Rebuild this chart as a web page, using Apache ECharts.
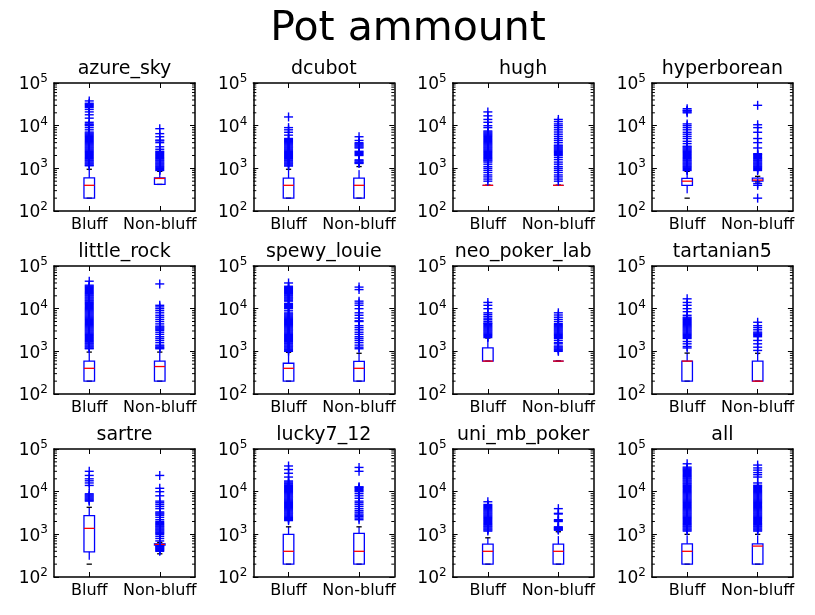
<!DOCTYPE html>
<html>
<head>
<meta charset="utf-8">
<script src="https://cdn.jsdelivr.net/npm/echarts@6/dist/echarts.min.js"></script>
<style>
  html, body { margin: 0; padding: 0; background: #fff; }
  #main { width: 815px; height: 615px; }
</style>
</head>
<body>
<div id="main"></div>
<script>
// players, one subplot each
const players = [
  'azure_sky', 'dcubot', 'hugh', 'hyperborean',
  'little_rock', 'spewy_louie', 'neo_poker_lab', 'tartanian5',
  'sartre', 'lucky7_12', 'uni_mb_poker', 'all'
]
const groups = ['Bluff', 'Non-bluff']

// minor ticks of the log axis
const minorTicks = [
  200, 300, 400, 500, 600, 700, 800, 900,
  2000, 3000, 4000, 5000, 6000, 7000, 8000, 9000,
  20000, 30000, 40000, 50000, 60000, 70000, 80000, 90000
]

// [whisker low, q1, median, q3, whisker high]
const bluffStats = [
  [200, 200, 400, 600, 950],
  [200, 200, 400, 590, 950],
  [400, 400, 400, 400, 400],
  [200, 400, 500, 580, 850],
  [200, 200, 400, 590, 960],
  [200, 200, 400, 525, 950],
  [590, 590, 590, 1200, 2050],
  [200, 200, 590, 590, 910],
  [200, 390, 1380, 2750, 4300],
  [200, 200, 400, 1000, 1500],
  [200, 200, 400, 590, 830],
  [200, 200, 400, 600, 1000]
]
const nonBluffStats = [
  [420, 420, 580, 600, 850],
  [200, 200, 400, 590, 1100],
  [400, 400, 400, 400, 400],
  [480, 500, 530, 590, 650],
  [200, 200, 440, 590, 960],
  [200, 200, 400, 580, 900],
  [590, 590, 590, 590, 590],
  [200, 200, 200, 590, 900],
  [350, 560, 580, 600, 650],
  [200, 200, 400, 1050, 1500],
  [200, 200, 400, 590, 1150],
  [200, 200, 530, 600, 1000]
]

// fliers
const bluffOutliers = [
  [1150, 1190, 1260, 1330, 1410, 1500, 1580, 1680, 1780, 1880, 2000, 2110, 2240, 2370, 2510, 2660, 2820, 2990,
    3160, 3350, 3550, 3760, 3980, 4220, 4470, 4730, 5010, 5310, 5620, 5960, 6310, 6680, 7080,
    8000, 9000, 10000, 10500, 11000, 12000, 15000, 18000, 21000, 24000, 26600, 28200, 29900, 31600, 33500, 38000],
  [1130, 1190, 1260, 1330, 1410, 1500, 1580, 1680, 1780, 1880, 2000, 2110, 2240, 2370, 2510, 2660, 2820, 2990,
    3160, 3350, 3550, 3760, 3980, 4220, 4470, 4730, 5010, 6000, 7000, 8000, 9000, 16000],
  [500, 560, 630, 700, 800, 900, 1000, 1100, 1250, 1400, 1500, 1580, 1680, 1780, 1880, 2000, 2110, 2240, 2370,
    2510, 2660, 2820, 2990, 3160, 3350, 3550, 3760, 3980, 4220, 4470, 4730, 5010, 5310, 5620, 5960, 6310, 6680,
    7080, 7500, 9000, 10000, 12000, 14000, 17000, 21000],
  [890, 940, 1000, 1060, 1120, 1190, 1260, 1330, 1410, 1500, 1580, 1680, 1780, 1880, 2000, 2110, 2240, 2370,
    2510, 2660, 2820, 2990, 3160, 3300, 3800, 4300, 5000, 5600, 6300, 7000, 8000, 9000, 10000, 11000,
    20000, 21100, 22400, 23000, 25000],
  [1150, 1190, 1260, 1330, 1410, 1500, 1580, 1680, 1780, 1880, 2000, 2110, 2240, 2370, 2510, 2660, 2820, 2990,
    3160, 3350, 3550, 3760, 3980, 4220, 4470, 4730, 5010, 5310, 5620, 5960, 6310, 6680, 7080, 7500, 7940, 8410,
    8910, 9440, 10000, 10600, 11200, 11900, 12600, 13300, 14100, 15000, 15800, 16800, 17800, 18800, 20000,
    21100, 22400, 23700, 25100, 26600, 28200, 29900, 31600, 33500, 35500, 44000],
  [1000, 1060, 1120, 1190, 1260, 1330, 1410, 1500, 1580, 1680, 1780, 1880, 2000, 2110, 2240, 2370, 2510, 2660,
    2820, 2990, 3160, 3350, 3550, 3760, 3980, 4220, 4470, 4730, 5010, 5310, 5620, 5960, 6310, 6680, 7080, 7500,
    7940, 8910, 10000, 10600, 11200, 11900, 12600, 13300, 15000, 15800, 16800, 17800, 18800, 20000, 21100,
    22400, 23700, 25100, 26600, 28200, 29900, 31600, 33500, 40000],
  [2100, 2240, 2370, 2510, 2660, 2820, 2990, 3160, 3350, 3550, 3760, 3980, 4220, 4470, 4600,
    5000, 5500, 6000, 6600, 7300, 8000, 10000, 12000, 14000],
  [1200, 1300, 1500, 1700, 2000, 2110, 2240, 2370, 2510, 2660, 2820, 2990, 3160, 3350, 3550, 3760, 3980, 4220,
    4470, 4730, 5010, 5310, 5620, 5960, 6310, 7000, 8500, 10000, 12000, 14000, 17000],
  [6000, 6310, 6680, 7080, 7500, 7940, 8410, 8910, 14000, 16000, 18000, 20000, 24000, 30000],
  [2100, 2240, 2370, 2510, 2660, 2820, 2990, 3160, 3350, 3550, 3760, 3980, 4220, 4470, 4730, 5010, 5310, 5620,
    5960, 6310, 6680, 7080, 7500, 7940, 8410, 8910, 9440, 10000, 10600, 11200, 11900, 12600, 13300, 14100,
    15000, 15800, 16800, 17800, 22000, 27000, 33000, 40000],
  [1190, 1260, 1330, 1410, 1500, 1580, 1680, 1780, 1880, 2000, 2110, 2240, 2370, 2510, 2660, 2820, 2990, 3160,
    3350, 3550, 3760, 3980, 4220, 4470, 4730, 5010, 5800],
  [1190, 1260, 1330, 1410, 1500, 1580, 1680, 1780, 1880, 2000, 2110, 2240, 2370, 2510, 2660, 2820, 2990, 3160,
    3350, 3550, 3760, 3980, 4220, 4470, 4730, 5010, 5310, 5620, 5960, 6310, 6680, 7080, 7500, 7940, 8410, 8910,
    9440, 10000, 10600, 11200, 11900, 12600, 13300, 14100, 15000, 15800, 16800, 17800, 18800, 20000, 21100,
    22400, 23700, 25100, 26600, 28200, 29900, 31600, 33500, 35500, 37600, 45000]
]
const nonBluffOutliers = [
  [890, 940, 1000, 1060, 1120, 1190, 1260, 1330, 1410, 1500, 1580, 1680, 1780, 1880, 2000, 2110, 2240, 2370,
    2510, 2800, 3200, 4000, 4400, 4600, 5500, 6500, 8500],
  [1300, 1350, 1410, 1500, 1580, 2000, 2110, 2240, 2370, 2510, 3000, 3160, 3350, 3550, 3760, 3980, 4500, 5500],
  [500, 560, 630, 700, 800, 900, 1000, 1100, 1250, 1400, 1600, 1800, 2000, 2110, 2240, 2370, 2510, 2660, 2820,
    2990, 3160, 3350, 3500, 4000, 4500, 5000, 5600, 6300, 7100, 8000, 9000, 10000, 11000, 12500, 14000],
  [200, 400, 440, 890, 940, 1000, 1060, 1120, 1190, 1260, 1330, 1410, 1500, 1580, 1680, 1780, 1880, 2000, 2110,
    2200, 3000, 4000, 5000, 7000, 9000, 10500, 30000],
  [1150, 1200, 1250, 1330, 1400, 1600, 1800, 2000, 2200, 2500, 2800, 3100, 3300, 3500, 3700, 3900, 4400, 5000,
    5600, 6300, 7000, 8000, 9000, 10000, 11000, 12000, 38000],
  [1150, 1250, 1400, 1600, 1800, 2000, 2200, 2500, 2800, 3200, 3600, 4000, 5000, 5200, 6000, 7000, 8000,
    10000, 12000, 13500, 15000, 28000, 32000],
  [1000, 1060, 1120, 1190, 1260, 1330, 1500, 1600, 1800, 2000, 2110, 2240, 2370, 2510, 2660, 2820, 2990, 3160,
    3350, 3550, 3760, 3980, 4220, 4470, 5000, 5600, 6300, 7100, 8000],
  [1050, 1250, 1500, 1800, 2200, 2370, 2510, 2660, 2820, 3200, 3600, 4000, 4800],
  [400, 420, 440, 460, 480, 500, 520, 540, 700, 800, 900, 1000, 1060, 1120, 1190, 1260, 1330, 1410, 1500, 1580,
    1680, 1780, 1880, 2000, 2200, 2500, 2800, 2990, 3160, 3350, 4000, 4500, 5000, 5500, 6000, 8000, 10000,
    12000, 24000],
  [2200, 2400, 2600, 2800, 3000, 3300, 3600, 4000, 4500, 5000, 5500, 6000, 7000, 8000, 9000, 10000, 10600,
    11200, 11900, 12600, 13000, 30000, 37000],
  [1250, 1300, 1350, 1400, 1450, 1500, 2000, 2100, 2200, 3000, 3100, 4000],
  [1190, 1260, 1330, 1410, 1500, 1580, 1680, 1780, 1880, 2000, 2110, 2240, 2370, 2510, 2660, 2820, 2990, 3160,
    3350, 3550, 3760, 3980, 4220, 4470, 4730, 5010, 5310, 5620, 5960, 6310, 6680, 7080, 7500, 7940, 8410, 8910,
    9440, 10000, 10600, 11200, 11900, 12600, 13300, 14100, 16000, 22000, 25000, 28000, 32000, 36000, 42000]
]

const FONT = 'DejaVu Sans'
const BLUE = '#0000ff'
const RED = '#ff0000'
const LW = 1.3

const grids = []
const xAxes = []
const yAxes = []
const series = []
const texts = []

texts.push({
  type: 'text',
  x: 408,
  y: 29,
  style: {
    text: 'Pot ammount',
    font: `41px "${FONT}"`,
    fill: '#000',
    textAlign: 'center',
    textVerticalAlign: 'middle',
    align: 'center',
    verticalAlign: 'middle',
  },
})

const tickStyle = { color: '#000', width: 1 }

// 箱体 + 须 + 帽 + 中位线
const renderBox = (params, api) => {
  const cx = api.coord([api.value(0), 100])[0]
  const band = api.size([1, 0])[0]
  const hw = band * 0.075
  const cw = band * 0.0375
  const y = (v) => api.coord([api.value(0), v])[1]
  const lo = y(api.value(1))
  const q1 = y(api.value(2))
  const med = y(api.value(3))
  const q3 = y(api.value(4))
  const hi = y(api.value(5))
  const whisker = { stroke: BLUE, lineWidth: LW, lineDash: [8, 8] }
  const solid = (c) => ({ stroke: c, lineWidth: LW })
  return {
    type: 'group',
    children: [
      { type: 'line', shape: { x1: cx, y1: q1, x2: cx, y2: lo }, style: whisker },
      { type: 'line', shape: { x1: cx, y1: q3, x2: cx, y2: hi }, style: whisker },
      { type: 'line', shape: { x1: cx - cw, y1: lo, x2: cx + cw, y2: lo }, style: solid('#000') },
      { type: 'line', shape: { x1: cx - cw, y1: hi, x2: cx + cw, y2: hi }, style: solid('#000') },
      {
        type: 'rect',
        shape: { x: cx - hw, y: q3, width: hw * 2, height: q1 - q3 },
        style: { stroke: BLUE, fill: 'none', lineWidth: LW },
      },
      { type: 'line', shape: { x1: cx - hw, y1: med, x2: cx + hw, y2: med }, style: solid(RED) },
    ],
  }
}

// '+' 离群点
const renderFlier = (params, api) => {
  const p = api.coord([api.value(0), api.value(1)])
  const r = 4.5
  const st = { stroke: BLUE, lineWidth: 1.4 }
  return {
    type: 'group',
    children: [
      { type: 'line', shape: { x1: p[0] - r, y1: p[1], x2: p[0] + r, y2: p[1] }, style: st },
      { type: 'line', shape: { x1: p[0], y1: p[1] - r, x2: p[0], y2: p[1] + r }, style: st },
    ],
  }
}

// 对数轴次刻度，左右两侧朝内
const renderMinor = (params, api) => {
  const cs = params.coordSys
  const yy = api.coord([0, api.value(0)])[1]
  return {
    type: 'group',
    children: [
      { type: 'line', shape: { x1: cs.x, y1: yy, x2: cs.x + 3, y2: yy }, style: { stroke: '#000', lineWidth: 1 } },
      { type: 'line', shape: { x1: cs.x + cs.width - 3, y1: yy, x2: cs.x + cs.width, y2: yy }, style: { stroke: '#000', lineWidth: 1 } },
    ],
  }
}

players.forEach((name, i) => {
  const row = Math.floor(i / 4)
  const col = i % 4
  const left = 54 + col * 199.3
  const top = 83 + row * 183
  grids.push({ left, top, width: 141, height: 128, containLabel: false })

  texts.push({
    type: 'text',
    x: left + 70.5,
    y: top - 14,
    style: {
      text: name,
      font: `19px "${FONT}"`,
      fill: '#000',
      textAlign: 'center',
      textVerticalAlign: 'middle',
      align: 'center',
      verticalAlign: 'middle',
    },
  })

  const xBase = {
    type: 'category',
    gridIndex: i,
    data: groups,
    boundaryGap: true,
    axisLine: { show: true, lineStyle: { color: '#000', width: 1.5 } },
    axisTick: { show: true, alignWithLabel: true, inside: true, length: 5, lineStyle: tickStyle },
    splitLine: { show: false },
  }
  xAxes.push({
    ...xBase,
    position: 'bottom',
    axisLabel: { show: true, interval: 0, margin: 6, fontSize: 16, fontFamily: FONT, color: '#000' },
  })
  xAxes.push({ ...xBase, position: 'top', axisLabel: { show: false } })

  const yBase = {
    type: 'log',
    logBase: 10,
    gridIndex: i,
    min: 100,
    max: 100000,
    axisLine: { show: true, lineStyle: { color: '#000', width: 1.5 } },
    axisTick: { show: true, inside: true, length: 5, lineStyle: tickStyle },
    minorTick: { show: false },
    splitLine: { show: false },
  }
  yAxes.push({
    ...yBase,
    position: 'left',
    axisLabel: {
      show: true,
      margin: 6,
      padding: [4, 0, 0, 0],
      formatter: (v) => `{b|10}{s|${Math.round(Math.log10(v))}}`,
      rich: {
        b: { fontSize: 17, fontFamily: FONT, color: '#000', lineHeight: 24 },
        s: { fontSize: 12, fontFamily: FONT, color: '#000', lineHeight: 13, verticalAlign: 'top' },
      },
    },
  })
  yAxes.push({ ...yBase, position: 'right', axisLabel: { show: false } })

  series.push({
    type: 'custom',
    xAxisIndex: 2 * i,
    yAxisIndex: 2 * i,
    renderItem: renderMinor,
    data: minorTicks.map((v) => [v]),
    encode: { y: 0 },
    silent: true,
    z: 1,
  })
  series.push({
    type: 'custom',
    xAxisIndex: 2 * i,
    yAxisIndex: 2 * i,
    renderItem: renderBox,
    data: [[0, ...bluffStats[i]], [1, ...nonBluffStats[i]]],
    encode: { x: 0, y: [1, 2, 3, 4, 5] },
    silent: true,
    z: 2,
  })
  series.push({
    type: 'custom',
    xAxisIndex: 2 * i,
    yAxisIndex: 2 * i,
    renderItem: renderFlier,
    data: bluffOutliers[i].map((v) => [0, v]).concat(nonBluffOutliers[i].map((v) => [1, v])),
    encode: { x: 0, y: 1 },
    silent: true,
    z: 3,
  })
})

const chart = echarts.init(document.getElementById('main'), null, { renderer: 'canvas' })
chart.setOption({
  animation: false,
  backgroundColor: '#fff',
  grid: grids,
  xAxis: xAxes,
  yAxis: yAxes,
  series,
  graphic: texts,
})
</script>
</body>
</html>
